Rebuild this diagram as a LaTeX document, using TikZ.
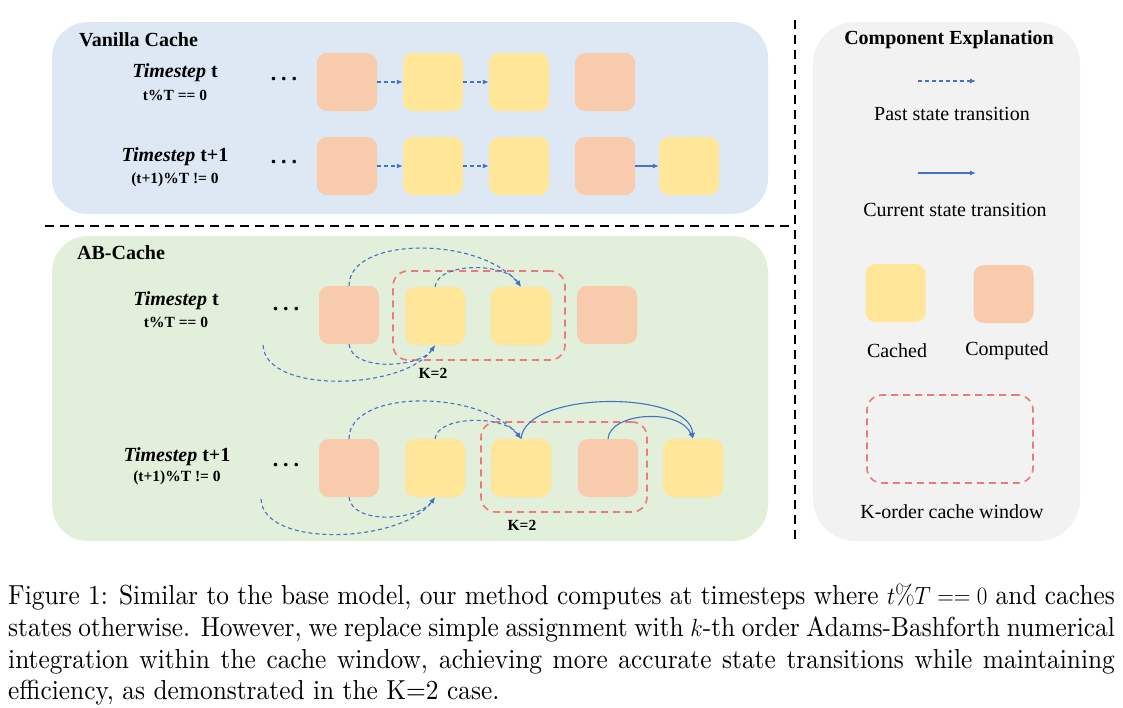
\documentclass[tikz,border=0pt]{standalone}
\usepackage{graphicx}
\usepackage{fontspec}
\newfontfamily\tnr{Liberation Serif}
\newfontfamily\capfont{lmroman10-regular.otf}
\usetikzlibrary{arrows.meta}
\definecolor{vanbg}{HTML}{DDE8F4}
\definecolor{abbg}{HTML}{E2EFDA}
\definecolor{legbg}{HTML}{F2F2F2}
\definecolor{compcol}{HTML}{F8CBAD}
\definecolor{cachcol}{HTML}{FFE699}
\definecolor{arrcol}{HTML}{4472C4}
\definecolor{wincol}{HTML}{EC7A7A}
\newcommand\capline[1]{\scalebox{0.923}[1]{\makebox[1199pt][s]{#1}}}

\begin{document}
\begin{tikzpicture}[
		x=1pt,y=-1pt,
		comp/.style={fill=compcol,rounded corners=10pt,minimum width=60pt,minimum height=58pt,inner sep=0pt},
		cach/.style={comp,fill=cachcol},
		win/.style={draw=wincol,dash pattern=on 7pt off 5pt,line width=1.6pt,rounded corners=15pt,inner sep=0pt},
		past/.style={-{Latex[length=6pt,width=5pt]},draw=arrcol,line width=1.1pt,dash pattern=on 4pt off 3pt},
		curr/.style={-{Latex[length=6pt,width=5pt]},draw=arrcol,line width=1.1pt},
		sepline/.style={line width=2.6pt,dash pattern=on 9pt off 6pt},
		ttl/.style={font={\tnr\bfseries\fontsize{20}{22}\selectfont},inner sep=0pt},
		sub/.style={font={\tnr\bfseries\fontsize{15.5}{17}\selectfont},inner sep=0pt},
		lab/.style={font={\tnr\fontsize{20}{22}\selectfont},inner sep=0pt},
		dotlab/.style={font={\tnr\bfseries\fontsize{22}{22}\selectfont},inner sep=0pt},
		captxt/.style={font={\capfont\fontsize{27.5}{32}\selectfont},anchor=base west,inner sep=0pt}
		]
		\useasboundingbox (0,0) rectangle (1123,707);
		% ===== Panels =====
		\fill[vanbg,rounded corners=36pt] (52,22) rectangle (768,214);
		\fill[abbg,rounded corners=36pt] (52,236) rectangle (768,541);
		\fill[legbg,rounded corners=42pt] (813,22) rectangle (1080,541);
		\draw[sepline] (45,226) -- (790,226);
		\draw[sepline] (795,20) -- (795,541);
		% ===== Vanilla cache =====
		\node[ttl,anchor=west] (vtitle) at (79,40) {Vanilla Cache};
		\node[ttl] (vt1) at (175,73) {\textit{Timestep} t};
		\node[sub] (vc1) at (175,95) {t\%T == 0};
		\node[ttl] (vt2) at (175,157) {\textit{Timestep} t+1};
		\node[sub] (vc2) at (175,180) {(t+1)\%T != 0};
		\node[dotlab] (vd1) at (284,79) {.\hspace{5pt}.\hspace{5pt}.};
		\node[dotlab] (vd2) at (284,162) {.\hspace{5pt}.\hspace{5pt}.};
		\node[comp] (va1) at (347,82) {};
		\node[cach] (va2) at (433,82) {};
		\node[cach] (va3) at (519,82) {};
		\node[comp] (va4) at (605,82) {};
		\node[comp] (vb1) at (347,166) {};
		\node[cach] (vb2) at (433,166) {};
		\node[cach] (vb3) at (519,166) {};
		\node[comp] (vb4) at (605,166) {};
		\node[cach] (vb5) at (689,166) {};
		\draw[past] (va1) -- (va2);
		\draw[past] (va2) -- (va3);
		\draw[past] (vb1) -- (vb2);
		\draw[past] (vb2) -- (vb3);
		\draw[curr] (vb4) -- (vb5);
		% ===== AB cache =====
		\node[ttl,anchor=west] (atitle) at (77,253) {AB-Cache};
		\node[ttl] (at1) at (176,301) {\textit{Timestep} t};
		\node[sub] (ac1) at (176,322) {t\%T == 0};
		\node[ttl] (at2) at (177,457) {\textit{Timestep} t+1};
		\node[sub] (ac2) at (177,478) {(t+1)\%T != 0};
		\node[dotlab] (ad1) at (286,309) {.\hspace{5pt}.\hspace{5pt}.};
		\node[dotlab] (ad2) at (286,465) {.\hspace{5pt}.\hspace{5pt}.};
		% row t
		\node[comp] (aa1) at (349,315) {};
		\node[cach] (aa2) at (435,316) {};
		\node[cach] (aa3) at (521,316) {};
		\node[comp] (aa4) at (607,315) {};
		\node[win,minimum width=172pt,minimum height=89pt] (awin1) at (479,315.5) {};
		\node[sub] (ak1) at (433,373) {K=2};
		\coordinate (afree1) at (263,345);
		\draw[past] (aa1.north) .. controls (349,236) and (480,236) .. (aa3.north);
		\draw[past] (aa2.north) .. controls (438,262) and (505,262) .. (aa3.north);
		\draw[past] (aa1.south) .. controls (352,372) and (420,368) .. (aa2.south);
		\draw[past] (afree1) .. controls (265,395) and (405,390) .. (aa2.south);
		% row t+1
		\node[comp] (ab1) at (349,468) {};
		\node[cach] (ab2) at (435,468) {};
		\node[cach] (ab3) at (521,468) {};
		\node[comp] (ab4) at (608,468) {};
		\node[cach] (ab5) at (693,468) {};
		\node[win,minimum width=166pt,minimum height=90pt] (awin2) at (564,467) {};
		\node[sub] (ak2) at (522,525) {K=2};
		\coordinate (afree2) at (261,499);
		\draw[past] (ab1.north) .. controls (349,389) and (480,389) .. (ab3.north);
		\draw[past] (ab2.north) .. controls (438,415) and (505,415) .. (ab3.north);
		\draw[curr] (ab3.north) .. controls (525,390) and (690,390) .. (ab5.north);
		\draw[curr] (ab4.north) .. controls (610,412) and (680,408) .. (ab5.north);
		\draw[past] (ab1.south) .. controls (352,525) and (418,521) .. (ab2.south);
		\draw[past] (afree2) .. controls (263,549) and (403,543) .. (ab2.south);
		% ===== Component explanation =====
		\node[ttl] (ltitle) at (949,40) {Component Explanation};
		\coordinate (lp1) at (918,81);
		\coordinate (lp2) at (976,81);
		\draw[past] (lp1) -- (lp2);
		\node[lab] (lpast) at (952,114) {Past state transition};
		\coordinate (lc1) at (918,173);
		\coordinate (lc2) at (976,173);
		\draw[curr] (lc1) -- (lc2);
		\node[lab] (lcurr) at (955,210) {Current state transition};
		\node[cach] (lcach) at (895.5,293) {};
		\node[comp] (lcomp) at (1003.5,294) {};
		\node[lab] (lcachlab) at (897,351) {Cached};
		\node[lab] (lcomplab) at (1007,351) {Computed};
		\node[win,minimum width=166pt,minimum height=88pt] (lwin) at (950,439) {};
		\node[lab] (lwinlab) at (952,512) {K-order cache window};
		% ===== Caption =====
		\node[captxt] (cap1) at (8,604) {\capline{Figure 1: Similar to the base model, our method computes at timesteps where $t\%T == 0$ and caches}};
		\node[captxt] (cap2) at (8,636) {\capline{states otherwise. However, we replace simple assignment with $k$-th order Adams-Bashforth numerical}};
		\node[captxt] (cap3) at (8,668) {\capline{integration within the cache window, achieving more accurate state transitions while maintaining}};
		\node[captxt] (cap4) at (8,699) {\scalebox{0.923}[1]{efficiency, as demonstrated in the K=2 case.}};
	\end{tikzpicture}
\end{document}
